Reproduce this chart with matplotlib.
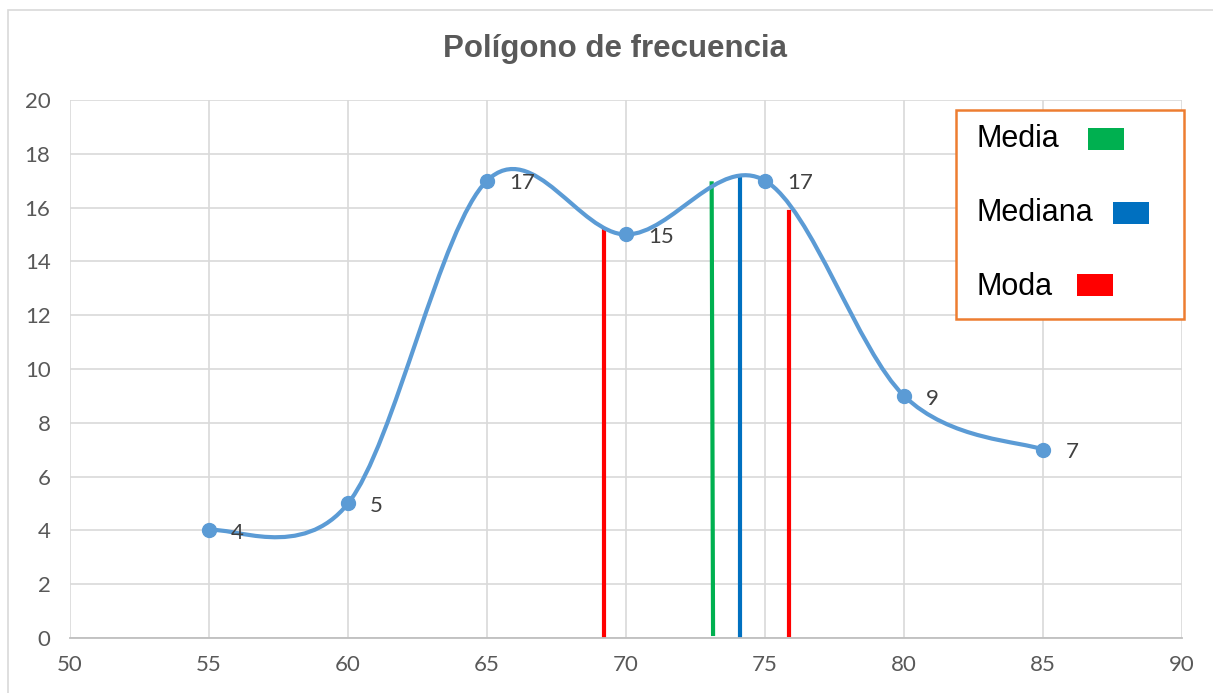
import matplotlib.pyplot as plt
from matplotlib.path import Path
from matplotlib.patches import PathPatch, Rectangle
import numpy as np

# Data
clases = [55, 60, 65, 70, 75, 80, 85]
frecuencias = [4, 5, 17, 15, 17, 9, 7]

# vertical lines: (x_bottom, x_top, y_bottom, y_top)
media = (73.13, 73.08, 0.15, 16.9)
mediana = (74.1, 74.1, 0.0, 17.15)
modas = [(69.2, 69.2, 0.0, 15.2), (75.86, 75.86, 0.1, 15.85)]

leyenda = ["Media", "Mediana", "Moda"]
col_media = "#00B050"
col_mediana = "#0070C0"
col_moda = "#FF0000"

plt.rcParams['font.family'] = ['Lato', 'DejaVu Sans']

fig = plt.figure(figsize=(12.13, 6.93), dpi=100)
ax = fig.add_axes([0.0577, 0.0794, 0.9168, 0.7763])

# chart border
fig.patches.append(Rectangle((0.0066, -0.02), 1.1, 1.005, transform=fig.transFigure,
                             fill=False, edgecolor="#D9D9D9", linewidth=1.2))

# smooth line (Excel style, Catmull-Rom to Bezier)
pts = np.column_stack([clases, frecuencias]).astype(float)
ext = np.vstack([pts[0], pts, pts[-1]])
verts = [tuple(pts[0])]
codes = [Path.MOVETO]
for i in range(1, len(ext) - 2):
    p0, p1, p2, p3 = ext[i - 1], ext[i], ext[i + 1], ext[i + 2]
    c1 = p1 + (p2 - p0) / 6
    c2 = p2 - (p3 - p1) / 6
    verts += [tuple(c1), tuple(c2), tuple(p2)]
    codes += [Path.CURVE4] * 3
ax.add_patch(PathPatch(Path(verts, codes), facecolor="none", edgecolor="#5B9BD5",
                       linewidth=3, zorder=3, capstyle="round"))
ax.plot(clases, frecuencias, "o", color="#5B9BD5", markersize=10, zorder=4)

for x, y in zip(clases, frecuencias):
    ax.annotate(str(y), (x, y), xytext=(16, -2), textcoords="offset points",
                fontsize=16, color="#404040", va="center", ha="left", zorder=5)

# vertical lines
lw = 3
ax.plot([media[0], media[1]], [media[2], media[3]], color=col_media, lw=lw, zorder=2)
ax.plot([mediana[0], mediana[1]], [mediana[2], mediana[3]], color=col_mediana, lw=lw, zorder=2)
for m in modas:
    ax.plot([m[0], m[1]], [m[2], m[3]], color=col_moda, lw=lw, zorder=2)

ax.set_xlim(50, 90)
ax.set_ylim(0, 20)
ax.set_xticks(np.arange(50, 91, 5))
ax.set_yticks(np.arange(0, 21, 2))
ax.grid(True, color="#D9D9D9", linewidth=1.2)
ax.set_axisbelow(True)
for s in ["top", "right", "left"]:
    ax.spines[s].set_visible(False)
ax.spines["bottom"].set_color("#BFBFBF")
ax.spines["bottom"].set_linewidth(1.3)
ax.tick_params(length=0, labelsize=16, labelcolor="#595959")
ax.tick_params(axis="x", pad=12)
ax.tick_params(axis="y", pad=14)

fig.text(0.507, 0.93, "Polígono de frecuencia", ha="center", va="center",
         fontsize=22.5, fontweight="bold", color="#595959", family=["Liberation Sans"])

# legend box
fig.patches.append(Rectangle((0.788, 0.5397), 0.188, 0.3016, transform=fig.transFigure,
                             facecolor="white", edgecolor="#ED7D31", linewidth=1.8, zorder=5))
swatches = [(col_media, 0.8968, 0.7836), (col_mediana, 0.9175, 0.6768), (col_moda, 0.8879, 0.5722)]
ys = [0.8, 0.693, 0.586]
for label, y, (c, sx, sy) in zip(leyenda, ys, swatches):
    fig.text(0.805, y, label, fontsize=22, color="black", va="center",
             family=["Liberation Sans"], zorder=6)
    fig.patches.append(Rectangle((sx, sy), 0.0297, 0.032, transform=fig.transFigure,
                                 facecolor=c, edgecolor="none", zorder=6))

fig.savefig("out.png", dpi=100)
